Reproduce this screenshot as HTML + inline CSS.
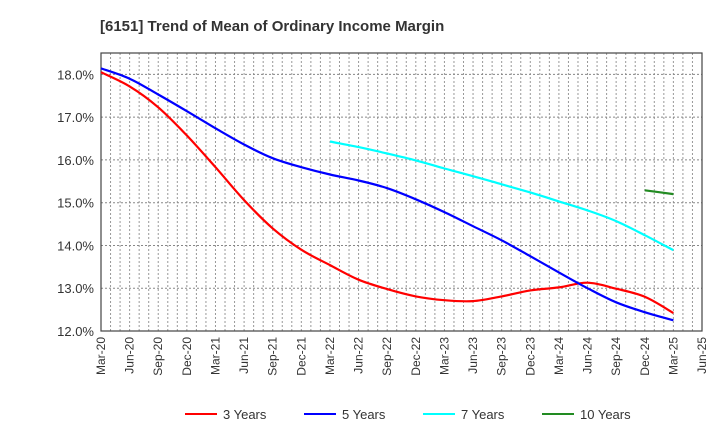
<!DOCTYPE html>
<html><head><meta charset="utf-8"><style>
body{margin:0;background:#fff;font-family:"Liberation Sans",sans-serif;}
svg text{font-family:"Liberation Sans",sans-serif;}
</style></head><body>
<svg id="c" width="720" height="440">
<text x="100" y="31" font-size="15" font-weight="bold" fill="#333">[6151]  Trend of Mean of Ordinary Income Margin</text>
<g id="grid"></g><g id="axes"></g><g id="series"></g><g id="legend"></g>
</svg>
<script>
const xLabels=["Mar-20","Jun-20","Sep-20","Dec-20","Mar-21","Jun-21","Sep-21","Dec-21","Mar-22","Jun-22","Sep-22","Dec-22","Mar-23","Jun-23","Sep-23","Dec-23","Mar-24","Jun-24","Sep-24","Dec-24","Mar-25","Jun-25"];
const yTicks=[12,13,14,15,16,17,18];
const s3=[18.05,17.72,17.23,16.57,15.83,15.06,14.4,13.9,13.54,13.2,12.98,12.81,12.72,12.7,12.81,12.95,13.02,13.13,12.99,12.8,12.42];
const s5=[18.14,17.9,17.53,17.14,16.74,16.36,16.04,15.83,15.66,15.52,15.34,15.08,14.78,14.45,14.12,13.75,13.37,13.0,12.67,12.44,12.25];
const s7=[16.43,16.3,16.15,15.99,15.8,15.62,15.43,15.24,15.03,14.82,14.57,14.24,13.89];
const s10=[15.29,15.2];
const L=101,R=702,T=53,B=331,yMin=12,yMax=18.5;
const NS="http://www.w3.org/2000/svg";
const X=i=>L+(R-L)*i/21, Y=v=>B-(v-yMin)/(yMax-yMin)*(B-T);
function mk(t,a,p){const e=document.createElementNS(NS,t);for(const k in a)e.setAttribute(k,a[k]);p.appendChild(e);return e;}
const g=document.getElementById('grid'),ax=document.getElementById('axes'),se=document.getElementById('series'),lg=document.getElementById('legend');
for(let m=1;m<63;m++){const x=L+(R-L)*m/63;const l=mk('line',{x1:x,x2:x,y1:T,y2:B,stroke:'#999','stroke-dasharray':'2,2','stroke-width':1},g);

}
yTicks.forEach(v=>{const y=Y(v);const l=mk('line',{x1:L,x2:R,y1:y,y2:y,stroke:'#888','stroke-dasharray':'2,2'},g);


const t=mk('text',{x:L-7,y:y+5,'text-anchor':'end','font-size':13,fill:'#333'},ax);t.textContent=v.toFixed(1)+'%';

});
xLabels.forEach((s,i)=>{const x=X(i);const t=mk('text',{transform:`translate(${x+4},${B+6}) rotate(-90)`,'text-anchor':'end','font-size':12,fill:'#333'},ax);t.textContent=s;

});
const fr=mk('rect',{x:L,y:T,width:R-L,height:B-T,fill:'none',stroke:'#444','stroke-width':1.2},ax);


function line(arr,off,col,name){const P=arr.map((v,i)=>[X(i+off),Y(v)]);
let d='M'+P[0][0].toFixed(1)+','+P[0][1].toFixed(1);
for(let i=0;i<P.length-1;i++){const p0=P[Math.max(0,i-1)],p1=P[i],p2=P[i+1],p3=P[Math.min(P.length-1,i+2)];
const c1=[p1[0]+(p2[0]-p0[0])/6,p1[1]+(p2[1]-p0[1])/6],c2=[p2[0]-(p3[0]-p1[0])/6,p2[1]-(p3[1]-p1[1])/6];
d+=` C${c1[0].toFixed(1)},${c1[1].toFixed(1)} ${c2[0].toFixed(1)},${c2[1].toFixed(1)} ${p2[0].toFixed(1)},${p2[1].toFixed(1)}`;}
const p=mk('path',{d:d,fill:'none',stroke:col,'stroke-width':2.2},se);

}
line(s3,0,'#f00','series-3-years');line(s5,0,'#00f','series-5-years');line(s7,8,'#0ff','series-7-years');line(s10,19,'#228b22','series-10-years');
[['3 Years','#f00',185],['5 Years','#00f',304],['7 Years','#0ff',423],['10 Years','#228b22',542]].forEach(([n,c,x])=>{
const l=mk('line',{x1:x,x2:x+32,y1:414,y2:414,stroke:c,'stroke-width':2},lg);


const t=mk('text',{x:x+38,y:419,'font-size':13,fill:'#333'},lg);t.textContent=n;

});
</script>
</body></html>
